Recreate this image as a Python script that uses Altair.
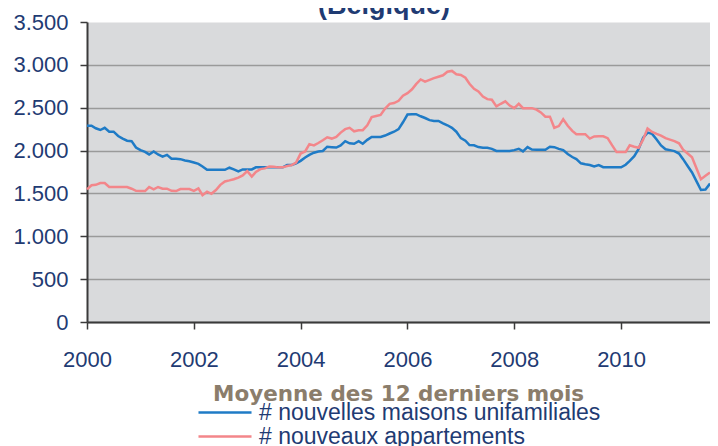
import altair as alt
import pandas as pd

# Monthly values, Jan 2000 .. Sep 2011 (12-month moving average)
maisons = [
    2290, 2290, 2260, 2240, 2265, 2220, 2220, 2170, 2140, 2115, 2110, 2035,
    2005, 1985, 1955, 1990, 1955, 1930, 1950, 1905, 1905, 1900, 1885, 1875,
    1860, 1845, 1815, 1776, 1776, 1776, 1776, 1776, 1800, 1780, 1757, 1780,
    1780, 1780, 1804, 1804, 1804, 1804, 1804, 1804, 1804, 1832, 1832, 1850,
    1880, 1920, 1950, 1975, 1990, 1995, 2045, 2040, 2035, 2060, 2110, 2085,
    2080, 2110, 2080, 2125, 2159, 2159, 2159, 2175, 2199, 2220, 2250, 2330,
    2420, 2424, 2424, 2400, 2380, 2355, 2345, 2345, 2317, 2295, 2265, 2220,
    2145, 2115, 2065, 2061, 2041, 2033, 2033, 2020, 1995, 1994, 1994, 1994,
    2005, 2021, 1990, 2040, 2012, 2010, 2010, 2010, 2045, 2040, 2020, 2005,
    1960, 1925, 1900, 1851, 1840, 1832, 1815, 1830, 1806, 1804, 1804, 1804,
    1804, 1835, 1880, 1935, 2020, 2150, 2210, 2195, 2130, 2060, 2015, 2005,
    1994, 1965, 1900, 1820, 1745, 1640, 1540, 1545, 1615,
]
appartements = [
    1548, 1595, 1600, 1622, 1622, 1575, 1575, 1575, 1575, 1575, 1555, 1530,
    1528, 1528, 1575, 1547, 1575, 1555, 1555, 1530, 1528, 1551, 1551, 1551,
    1530, 1559, 1480, 1520, 1496, 1540, 1600, 1640, 1652, 1665, 1685, 1710,
    1760, 1697, 1750, 1784, 1792, 1815, 1810, 1804, 1804, 1820, 1830, 1860,
    1965, 1990, 2075, 2060, 2088, 2120, 2155, 2140, 2159, 2210, 2250, 2265,
    2225, 2238, 2238, 2295, 2390, 2404, 2415, 2490, 2545, 2554, 2580, 2640,
    2670, 2715, 2775, 2830, 2805, 2825, 2845, 2862, 2878, 2920, 2929, 2890,
    2882, 2850, 2780, 2720, 2690, 2630, 2600, 2593, 2515, 2546, 2574, 2525,
    2495, 2546, 2495, 2495, 2495, 2478, 2445, 2396, 2396, 2266, 2286, 2365,
    2290, 2230, 2191, 2191, 2191, 2140, 2165, 2167, 2167, 2145, 2060, 1982,
    1982, 1982, 2061, 2045, 2033, 2130, 2258, 2218, 2195, 2175, 2145, 2128,
    2110, 2085, 2010, 1965, 1922, 1790, 1666, 1705, 1745,
]
series_names = ["# nouvelles maisons unifamiliales", "# nouveaux appartements"]
series_colors = ["#1F7BC6", "#F3868A"]
y_ticks = [0, 500, 1000, 1500, 2000, 2500, 3000, 3500]
x_tick_years = [2000, 2002, 2004, 2006, 2008, 2010]
chart_title = ["(Belgique)"]

dates = pd.date_range("2000-01-01", periods=len(maisons), freq="MS")
df = pd.concat([
    pd.DataFrame({"date": dates, "value": maisons, "serie": series_names[0]}),
    pd.DataFrame({"date": dates, "value": appartements, "serie": series_names[1]}),
])

NAVY = "#1F3B73"
AXIS = "#3A3A3A"
FONT = "Liberation Sans"

x_values = [pd.Timestamp(f"{y}-01-01").isoformat() for y in x_tick_years]

lines = alt.Chart(df).mark_line(strokeWidth=2.5).encode(
    x=alt.X(
        "date:T",
        scale=alt.Scale(domain=["2000-01-01", "2011-09-01"]),
        axis=alt.Axis(
            values=x_values, format="%Y", title="", grid=False,
            tickSize=7, tickColor=AXIS, tickWidth=1.5,
            domainColor=AXIS, domainWidth=2,
            labelFont=FONT, labelFontSize=22, labelColor=NAVY,
            labelPadding=20, labelFlush=False,
        ),
    ),
    y=alt.Y(
        "value:Q",
        scale=alt.Scale(domain=[0, 3500], nice=False),
        axis=alt.Axis(
            values=y_ticks, title="",
            labelExpr="replace(format(datum.value, ','), ',', '.')",
            tickSize=7, tickColor=AXIS, tickWidth=1.5,
            domainColor=AXIS, domainWidth=2,
            gridColor="#9A9A9A", gridWidth=1.5,
            gridOpacity=alt.condition("datum.value >= 3500", alt.value(0), alt.value(1)),
            labelFont=FONT, labelFontSize=22, labelColor=NAVY,
            labelPadding=12,
        ),
    ),
    color=alt.Color(
        "serie:N",
        scale=alt.Scale(domain=series_names, range=series_colors),
        sort=series_names,
        legend=alt.Legend(
            orient="none", legendX=126, legendY=362, direction="vertical",
            title="Moyenne des 12 derniers mois",
            titleFont="DejaVu Sans", titleFontSize=21.5, titleFontWeight="bold",
            titleColor="#8B7D6B", titleAnchor="start", titleLimit=700,
            titlePadding=-5,
            symbolType="M-2.5,0H2.5", symbolSize=450, symbolStrokeWidth=2.5,
            labelOffset=22, labelFont=FONT, labelFontSize=23, labelColor=NAVY,
            labelLimit=700, rowPadding=0,
        ),
    ),
)

title_text = alt.Chart(pd.DataFrame({"t": chart_title})).mark_text(
    font=FONT, fontSize=27, fontWeight="bold", color=NAVY,
    align="center", baseline="alphabetic",
).encode(
    text="t:N",
    x=alt.value(297),
    y=alt.value(-8),
)

chart = alt.layer(lines, title_text).properties(
    width=623,
    height=300,
    autosize=alt.AutoSizeParams(type="none"),
    padding={"left": 79, "top": 14, "right": 0, "bottom": 124},
).configure_view(
    fill="#D9DADC", stroke="transparent",
)

chart.save("out.html", embed_options={"renderer": "svg", "actions": False})
